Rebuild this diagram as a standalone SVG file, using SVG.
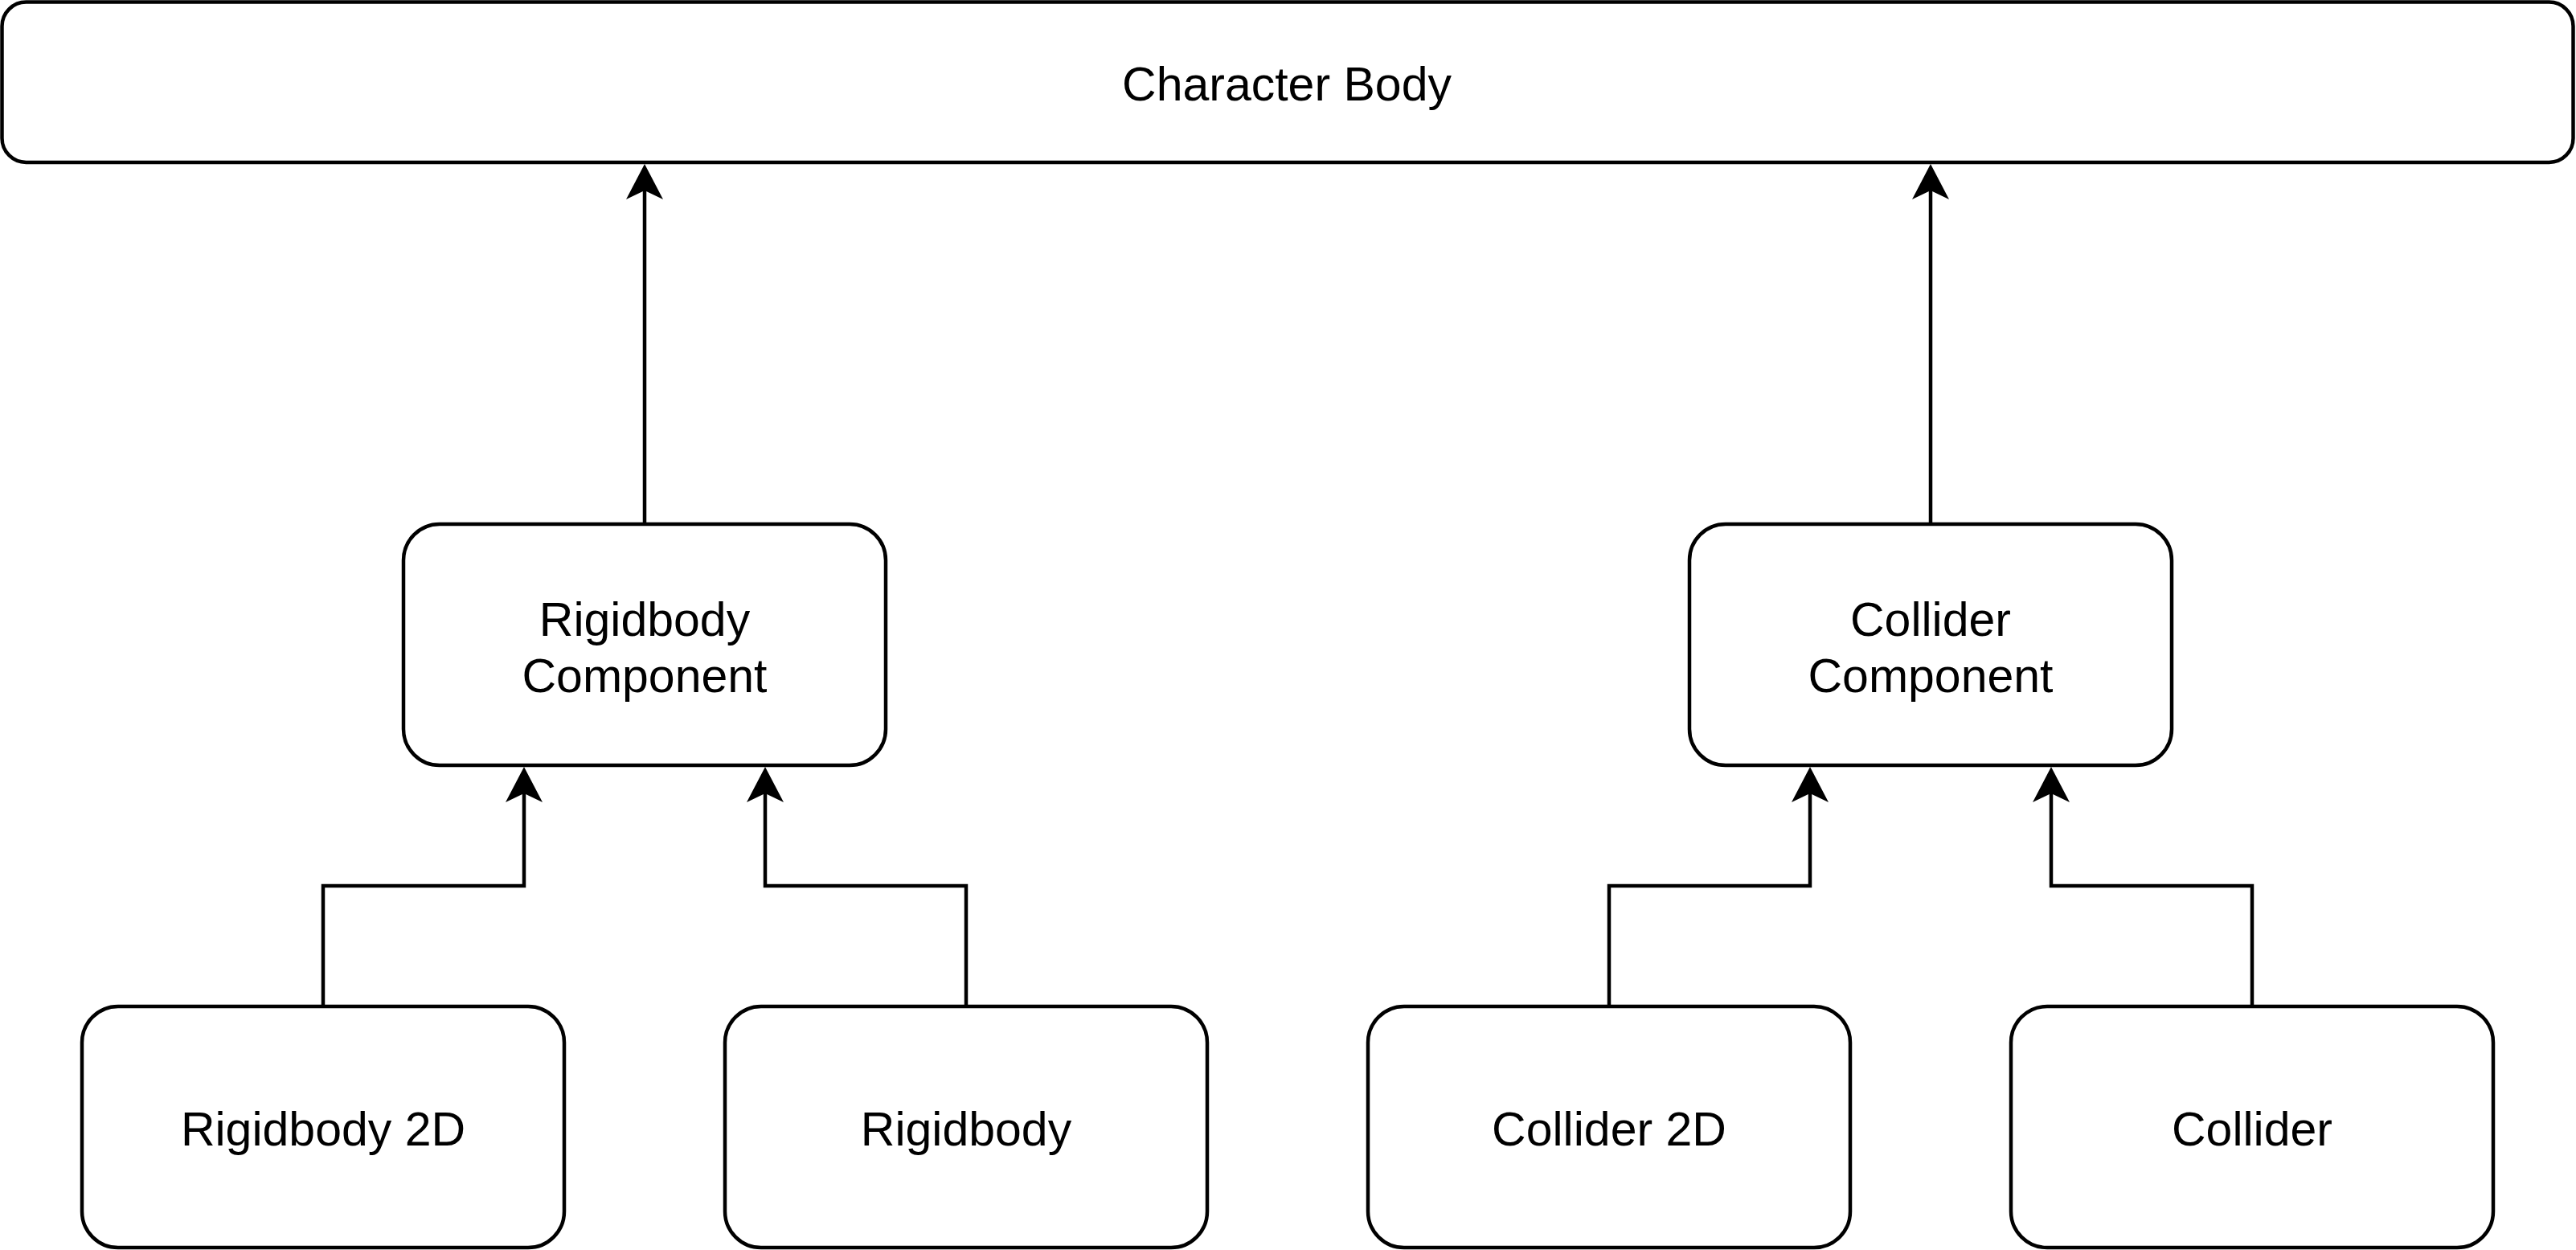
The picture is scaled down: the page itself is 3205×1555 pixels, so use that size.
<svg xmlns="http://www.w3.org/2000/svg" width="3205" height="1555" viewBox="0 0 3205 1555">
<style>
.box{fill:#ffffff;stroke:#000000;stroke-width:4.5}
.lbl{font-family:"Liberation Sans",Arial,Helvetica,sans-serif;font-size:59px;fill:#000000;text-anchor:middle}
.edge{fill:none;stroke:#000000;stroke-width:4.5;stroke-linejoin:miter}
</style>
<defs>
<marker id="arrow" viewBox="0 0 44 46" markerWidth="44" markerHeight="46" refX="11" refY="23" orient="auto" markerUnits="userSpaceOnUse">
<path d="M44,23 L0,0 L11,23 L0,46 Z" fill="#000000"/>
</marker>
</defs>
<rect x="0" y="0" width="3205" height="1555" fill="#ffffff"/>
<g id="connectors">
<path class="edge" d="M802,652 L802,237" marker-end="url(#arrow)"/>
<path class="edge" d="M2402,652 L2402,237" marker-end="url(#arrow)"/>
<path class="edge" d="M402,1252 L402,1102 L652,1102 L652,987" marker-end="url(#arrow)"/>
<path class="edge" d="M1202,1252 L1202,1102 L952,1102 L952,987" marker-end="url(#arrow)"/>
<path class="edge" d="M2002,1252 L2002,1102 L2252,1102 L2252,987" marker-end="url(#arrow)"/>
<path class="edge" d="M2802,1252 L2802,1102 L2552,1102 L2552,987" marker-end="url(#arrow)"/>
</g>
<g id="character-body">
<rect class="box" x="2.5" y="2.5" width="3199" height="199.5" rx="30" ry="30"/>
<text class="lbl" x="1601" y="125">Character Body</text>
</g>
<g id="rigidbody-component">
<rect class="box" x="502" y="652" width="600" height="300" rx="45" ry="45"/>
<text class="lbl" x="802" y="791">Rigidbody</text>
<text class="lbl" x="802" y="861">Component</text>
</g>
<g id="collider-component">
<rect class="box" x="2102" y="652" width="600" height="300" rx="45" ry="45"/>
<text class="lbl" x="2402" y="791">Collider</text>
<text class="lbl" x="2402" y="861">Component</text>
</g>
<g id="rigidbody-2d">
<rect class="box" x="102" y="1252" width="600" height="300" rx="45" ry="45"/>
<text class="lbl" x="402" y="1425">Rigidbody 2D</text>
</g>
<g id="rigidbody">
<rect class="box" x="902" y="1252" width="600" height="300" rx="45" ry="45"/>
<text class="lbl" x="1202" y="1425">Rigidbody</text>
</g>
<g id="collider-2d">
<rect class="box" x="1702" y="1252" width="600" height="300" rx="45" ry="45"/>
<text class="lbl" x="2002" y="1425">Collider 2D</text>
</g>
<g id="collider">
<rect class="box" x="2502" y="1252" width="600" height="300" rx="45" ry="45"/>
<text class="lbl" x="2802" y="1425">Collider</text>
</g>
</svg>
